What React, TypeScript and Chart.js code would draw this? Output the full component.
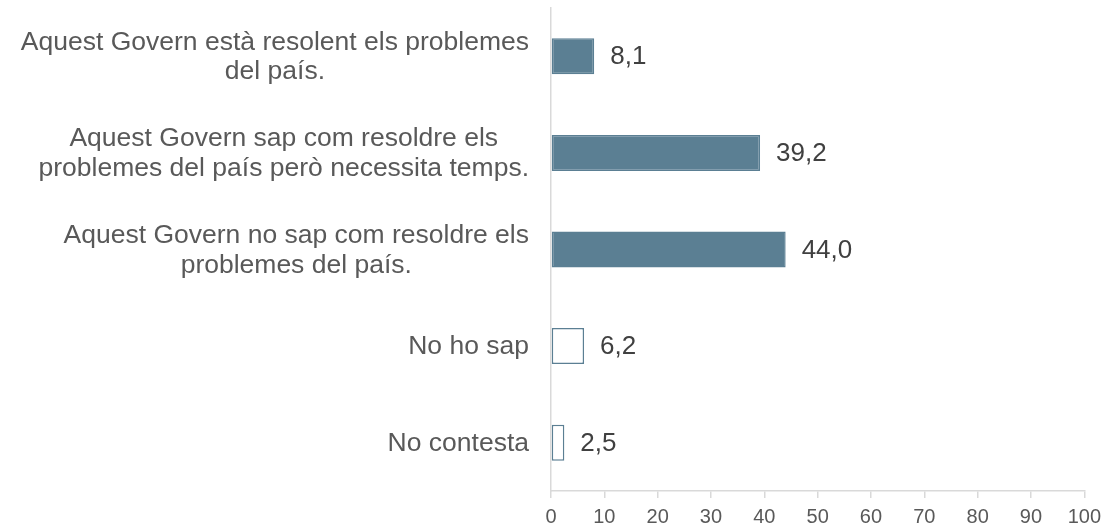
import React, { useEffect, useRef } from "react";
import { Chart, registerables } from "chart.js";

Chart.register(...registerables);

const categoryLines: string[][] = [
  ["Aquest Govern està resolent els problemes", "del país."],
  ["Aquest Govern sap com resoldre els", "problemes del país però necessita temps."],
  ["Aquest Govern no sap com resoldre els", "problemes del país."],
  ["No ho sap"],
  ["No contesta"],
];
const values: number[] = [8.1, 39.2, 44.0, 6.2, 2.5];
const filledBars: boolean[] = [true, true, true, false, false];
const xMin = 0;
const xMax = 100;
const xStep = 10;

const BAR_COLOR = "#5B7F93";
const FONT = "'Liberation Sans', Arial, sans-serif";

const labelsPlugin = {
  id: "customLabels",
  afterDraw(chart: any) {
    const { ctx, chartArea, scales } = chart;
    const xs = scales.x;
    const ys = scales.y;
    ctx.save();
    // category labels
    ctx.font = `26.5px ${FONT}`;
    ctx.fillStyle = "#595959";
    ctx.textBaseline = "middle";
    ctx.textAlign = "center";
    const lineH = 29.5;
    const rightEdge = chartArea.left - 22;
    categoryLines.forEach((lines, i) => {
      const yc = ys.getPixelForValue(i);
      const w = Math.max(...lines.map((l) => ctx.measureText(l).width));
      const cx = rightEdge - w / 2;
      const y0 = yc - ((lines.length - 1) * lineH) / 2;
      lines.forEach((l, j) => ctx.fillText(l, cx, y0 + j * lineH + 1));
    });
    // value labels
    ctx.font = `26px ${FONT}`;
    ctx.fillStyle = "#404040";
    ctx.textAlign = "left";
    values.forEach((v, i) => {
      const x = xs.getPixelForValue(v) + 16;
      const y = ys.getPixelForValue(i) + 1;
      ctx.fillText(v.toFixed(1).replace(".", ","), x, y);
    });
    ctx.restore();
  },
};

export default function App() {
  const canvasRef = useRef<HTMLCanvasElement | null>(null);

  useEffect(() => {
    if (!canvasRef.current) return;
    const chart = new Chart(canvasRef.current, {
      type: "bar",
      data: {
        labels: categoryLines.map((l) => l.join(" ")),
        datasets: [
          {
            data: values,
            backgroundColor: filledBars.map((f) => (f ? BAR_COLOR : "#ffffff")),
            borderColor: BAR_COLOR,
            borderWidth: 1.5,
            borderSkipped: false,
            barPercentage: 0.373,
            categoryPercentage: 1,
          },
        ],
      },
      options: {
        indexAxis: "y",
        animation: false,
        responsive: true,
        maintainAspectRatio: false,
        layout: { padding: { top: 8, right: 3, bottom: -7, left: 0 } },
        plugins: {
          legend: { display: false },
          tooltip: { enabled: false },
        },
        scales: {
          x: {
            min: xMin,
            max: xMax,
            ticks: {
              stepSize: xStep,
              color: "#595959",
              font: { family: FONT, size: 20 },
              padding: 7,
            },
            grid: {
              drawOnChartArea: false,
              drawTicks: true,
              tickLength: 7,
              color: "#d9d9d9",
              lineWidth: 1.5,
            },
            border: { color: "#d9d9d9", width: 1.5 },
          },
          y: {
            ticks: { display: false },
            grid: { display: false },
            border: { color: "#d9d9d9", width: 1.5 },
            afterFit: (s: any) => {
              s.width = 551;
            },
          },
        },
      },
      plugins: [labelsPlugin],
    });
    return () => chart.destroy();
  }, []);

  return (
    <div style={{ position: "fixed", left: 0, top: 0, width: 1108, height: 529, background: "#fff" }}>
      <canvas ref={canvasRef} />
    </div>
  );
}
